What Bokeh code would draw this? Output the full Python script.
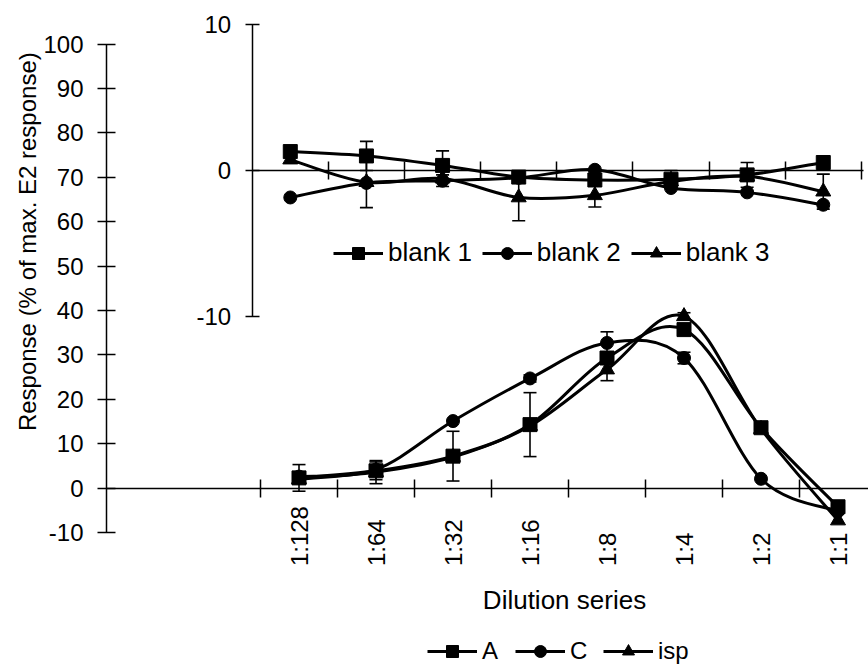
import math
from bokeh.plotting import figure
from bokeh.models import (ColumnDataSource, Range1d, LinearAxis, FixedTicker, Whisker,
                          TeeHead, Legend, LegendItem, Label)
from bokeh.core.properties import value
from bokeh.embed import file_html
from bokeh.resources import INLINE

# ---------------- data ----------------
dilutions = ["1:128", "1:64", "1:32", "1:16", "1:8", "1:4", "1:2", "1:1"]

a_vals = [2.3, 3.9, 7.2, 14.3, 29.3, 35.7, 13.6, -4.2]
a_err = [3.0, 2.0, 5.6, 7.2, 0.0, 0.0, 0.0, 0.0]
c_vals = [2.6, 4.2, 15.1, 24.7, 32.7, 29.3, 2.1, -5.2]
c_err = [0.0, 0.0, 0.0, 0.8, 2.5, 1.3, 0.0, 0.0]
isp_vals = [2.0, 3.6, 7.0, 14.0, 26.7, 38.7, 13.3, -7.3]
isp_err = [0.0, 2.6, 0.0, 0.0, 2.5, 0.8, 0.0, 0.0]

blank1_vals = [1.3, 1.0, 0.35, -0.45, -0.65, -0.6, -0.3, 0.55]
blank1_err = [0.0, 1.0, 1.0, 0.0, 0.0, 0.6, 0.85, 0.0]
blank2_vals = [-1.85, -0.85, -0.7, -0.5, 0.05, -1.2, -1.5, -2.35]
blank2_err = [0.0, 0.0, 0.4, 0.0, 0.0, 0.0, 0.0, 0.0]
blank3_vals = [0.75, -0.8, -0.55, -1.85, -1.7, -0.75, -0.4, -1.45]
blank3_err = [0.0, 1.75, 0.0, 1.6, 0.8, 0.0, 0.0, 1.2]

main_yticks = [-10, 0, 10, 20, 30, 40, 50, 60, 70, 80, 90, 100]
inset_yticks = [-10, 0, 10]

main_series = ["A", "C", "isp"]
inset_series = ["blank 1", "blank 2", "blank 3"]

x_title = "Dilution series"
y_title = "Response (% of max. E2 response)"

# ---------------- layout ----------------
FONT = "Liberation Sans"
N_EMPTY = 2          # empty category slots left of the first dilution on main axis
n = len(dilutions)
main_x = [N_EMPTY + 0.5 + i for i in range(n)]
inset_x = [0.5 + i for i in range(n)]

# the frame covers the whole canvas; every axis sits at a fixed location inside it
p = figure(width=868, height=665, output_backend="svg", toolbar_location=None,
           x_range=Range1d(-1.3766, 9.896), y_range=Range1d(-39.95, 109.82),
           x_axis_location=None, y_axis_location=None,
           min_border=0, min_border_left=0, min_border_right=0, min_border_top=0,
           min_border_bottom=0,
           background_fill_color="white", border_fill_color="white",
           outline_line_color=None)
p.grid.visible = False
p.extra_x_ranges = {"inset": Range1d(-3.306, 8.094)}
p.extra_y_ranges = {"inset": Range1d(-33.97, 11.668)}


def style_axis(ax):
    ax.axis_line_width = 1.5
    ax.major_tick_line_width = 1.5
    ax.minor_tick_line_width = 1.5
    ax.major_label_text_font = FONT
    ax.major_label_text_font_size = "24px"
    ax.major_label_text_color = "black"
    ax.axis_line_color = "black"
    ax.major_tick_line_color = "black"
    ax.minor_tick_line_color = "black"


# main y axis at x = 0
ya = LinearAxis(fixed_location=0, bounds=(main_yticks[0], main_yticks[-1]),
                ticker=FixedTicker(ticks=main_yticks))
style_axis(ya)
ya.major_tick_in = 9
ya.major_tick_out = 9
ya.minor_tick_in = 0
ya.minor_tick_out = 0
ya.major_label_standoff = 14
ya.major_label_overrides = {t: str(t) for t in main_yticks}
p.add_layout(ya, "left")

# main x axis at y = 0
main_bounds = [N_EMPTY + i for i in range(n)]
xa = LinearAxis(fixed_location=0, bounds=(0, 9.896),
                ticker=FixedTicker(ticks=[], minor_ticks=main_bounds))
style_axis(xa)
xa.minor_tick_in = 9
xa.minor_tick_out = 9
xa.major_tick_in = 0
xa.major_tick_out = 0
xa.major_label_text_font_size = "0px"
p.add_layout(xa, "below")

# inset y axis
iya = LinearAxis(x_range_name="inset", y_range_name="inset", fixed_location=0,
                 bounds=(inset_yticks[0], inset_yticks[-1]),
                 ticker=FixedTicker(ticks=inset_yticks))
style_axis(iya)
iya.major_tick_in = 7
iya.major_tick_out = 7
iya.minor_tick_in = 0
iya.minor_tick_out = 0
iya.major_label_standoff = 14
iya.major_label_overrides = {t: str(t) for t in inset_yticks}
p.add_layout(iya, "left")

# inset x axis
ixa = LinearAxis(x_range_name="inset", y_range_name="inset", fixed_location=0,
                 bounds=(0, n + 0.03),
                 ticker=FixedTicker(ticks=[], minor_ticks=[i + 1 for i in range(n)]))
style_axis(ixa)
ixa.minor_tick_in = 9
ixa.minor_tick_out = 9
ixa.major_tick_in = 0
ixa.major_tick_out = 0
ixa.major_label_text_font_size = "0px"
p.add_layout(ixa, "below")


def bezier_source(xs, ys):
    """Excel-like smoothed line: cubic Bezier control points from neighbours."""
    m = len(xs)
    d = dict(x0=[], y0=[], x1=[], y1=[], cx0=[], cy0=[], cx1=[], cy1=[])
    for i in range(m - 1):
        a = i - 1 if i > 0 else i
        b = i + 2 if i + 2 < m else i + 1
        d["x0"].append(xs[i]); d["y0"].append(ys[i])
        d["x1"].append(xs[i + 1]); d["y1"].append(ys[i + 1])
        d["cx0"].append(xs[i] + (xs[i + 1] - xs[a]) / 6.0)
        d["cy0"].append(ys[i] + (ys[i + 1] - ys[a]) / 6.0)
        d["cx1"].append(xs[i + 1] - (xs[b] - xs[i]) / 6.0)
        d["cy1"].append(ys[i + 1] - (ys[b] - ys[i]) / 6.0)
    return ColumnDataSource(d)


def add_series(xs, vals, errs, marker, size, rname=None):
    kw = {}
    if rname:
        kw = dict(x_range_name=rname, y_range_name=rname)
    ex = [x for x, e in zip(xs, errs) if e > 0]
    ev = [v for v, e in zip(vals, errs) if e > 0]
    ee = [e for e in errs if e > 0]
    if ex:
        wsrc = ColumnDataSource(dict(x=ex, upper=[v + e for v, e in zip(ev, ee)],
                                     lower=[v - e for v, e in zip(ev, ee)]))
        w = Whisker(base="x", upper="upper", lower="lower", source=wsrc,
                    dimension="height", line_width=1.6, line_color="black",
                    upper_head=TeeHead(size=13, line_width=1.6, line_color="black"),
                    lower_head=TeeHead(size=13, line_width=1.6, line_color="black"),
                    **kw)
        p.add_layout(w)
    lr = p.bezier(x0="x0", y0="y0", x1="x1", y1="y1", cx0="cx0", cy0="cy0",
                  cx1="cx1", cy1="cy1", source=bezier_source(xs, vals),
                  line_color="black", line_width=3, **kw)
    sr = p.scatter(xs, vals, marker=marker, size=size, fill_color="black",
                   line_color="black", **kw)
    return [lr, sr]


markers = [("square", 14), ("circle", 13), ("triangle", 15)]

main_items = []
for name, vals, errs, (mk, sz) in zip(main_series, [a_vals, c_vals, isp_vals],
                                      [a_err, c_err, isp_err], markers):
    main_items.append(LegendItem(label=name, renderers=add_series(main_x, vals, errs, mk, sz)))

inset_items = []
for name, vals, errs, (mk, sz) in zip(inset_series, [blank1_vals, blank2_vals, blank3_vals],
                                      [blank1_err, blank2_err, blank3_err], markers):
    inset_items.append(LegendItem(label=name,
                                  renderers=add_series(inset_x, vals, errs, mk, sz, "inset")))

# category labels under the main x axis (rotated, start-aligned like the reference)
p.text(x=main_x, y=[0] * n, text=dilutions, angle=math.pi / 2, text_align="left",
       text_baseline="middle", y_offset=78, text_font=value(FONT),
       text_font_size="24px", text_color="black")


def make_legend(items, loc, fs, spacing):
    return Legend(items=items, orientation="horizontal", location=loc,
                  glyph_width=50, glyph_height=30, label_standoff=5, spacing=spacing,
                  padding=0, margin=0, border_line_color=None,
                  background_fill_alpha=0, label_text_font=FONT,
                  label_text_font_size=fs, label_text_color="black")


# legend location = bottom-left corner in screen px from the frame's bottom-left
p.add_layout(make_legend(inset_items, (333, 397), "26px", 10), "center")
p.add_layout(make_legend(main_items, (427, -1), "24px", 13), "center")

# axis titles
p.add_layout(Label(x=5.948, y=-25.1, text=x_title, text_align="center",
                   text_baseline="middle", text_font=FONT, text_font_size="26px",
                   text_color="black"))
p.add_layout(Label(x=-1.026, y=55.5, text=y_title, angle=math.pi / 2,
                   text_align="center", text_baseline="middle", text_font=FONT,
                   text_font_size="24px", text_color="black"))

open("out.html", "w").write(file_html(p, INLINE))
